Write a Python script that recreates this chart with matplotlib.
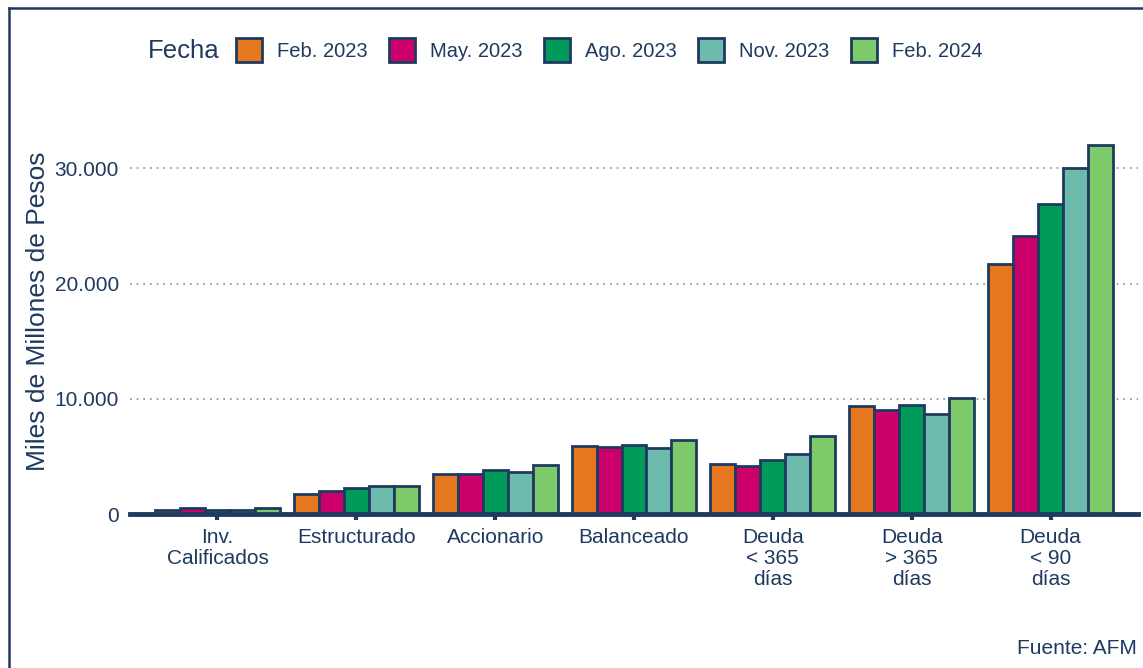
import numpy as np
import matplotlib.pyplot as plt
from matplotlib.patches import Patch
from matplotlib.lines import Line2D

plt.rcParams['font.family'] = ['Liberation Sans', 'DejaVu Sans']

# Data (miles de millones de pesos)
categorias = ['Inv.\nCalificados', 'Estructurado', 'Accionario', 'Balanceado',
              'Deuda\n< 365\ndías', 'Deuda\n> 365\ndías', 'Deuda\n< 90\ndías']
fechas = ['Feb. 2023', 'May. 2023', 'Ago. 2023', 'Nov. 2023', 'Feb. 2024']
feb_2023 = [380, 1740, 3480, 5910, 4350, 9390, 21710]
may_2023 = [480, 2030, 3450, 5850, 4200, 9020, 24170]
ago_2023 = [330, 2290, 3830, 5970, 4670, 9480, 26900]
nov_2023 = [380, 2400, 3630, 5740, 5220, 8700, 30000]
feb_2024 = [560, 2400, 4290, 6430, 6780, 10110, 32030]
series = [feb_2023, may_2023, ago_2023, nov_2023, feb_2024]

colores = ['#E67721', '#CC006B', '#009A5A', '#6CBBAD', '#7DCA6A']
navy = '#1F3A5F'
texto = '#1F3A5F'

W, H = 1143, 668
fig = plt.figure(figsize=(W / 100, H / 100), dpi=100)
ax = fig.add_axes([130 / W, 1 - 514 / H, (1138 - 130) / W, (514 - 127) / H])

x = np.arange(len(categorias))
ancho = 0.18
for i, (vals, col) in enumerate(zip(series, colores)):
    ax.bar(x + (i - 2) * ancho, vals, width=ancho, color=col,
           edgecolor=navy, linewidth=2.0, zorder=3)

ax.set_xlim(-0.63, 6.63)
ax.set_ylim(0, 33600)
ax.set_yticks([0, 10000, 20000, 30000])
ax.set_yticklabels(['0', '10.000', '20.000', '30.000'])
ax.set_xticks(x)
ax.set_xticklabels(categorias, linespacing=1.15)

for y in [10000, 20000, 30000]:
    ax.axhline(y, color='#7F8FA6', linestyle=(0, (1, 3)), linewidth=1.2, zorder=1)

for s in ['top', 'right', 'left']:
    ax.spines[s].set_visible(False)
ax.spines['bottom'].set_color(navy)
ax.spines['bottom'].set_linewidth(3.5)
ax.spines['bottom'].set_zorder(4)

ax.tick_params(axis='y', length=0, pad=8, labelsize=15, labelcolor=texto)
ax.tick_params(axis='x', length=4, width=3, color=navy, pad=6,
               labelsize=15, labelcolor=texto)

ax.set_ylabel('Miles de Millones de Pesos', fontsize=19, color=texto)
ax.yaxis.set_label_coords(-80 / (1138 - 130), 0.525)

# Legend
handles = [Patch(facecolor=c, edgecolor=navy, linewidth=2) for c in colores]
fig.text(148 / W, 1 - 51 / H, 'Fecha', fontsize=18.5, color=texto, va='center', ha='left')
fig.legend(handles, fechas, loc='center left', bbox_to_anchor=(236 / W, 1 - 50 / H),
           ncol=5, frameon=False, fontsize=14.5, labelcolor=texto,
           handlelength=1.3, handleheight=1.4, handletextpad=0.75,
           columnspacing=1.05, borderaxespad=0, borderpad=0)

fig.text(1137 / W, 1 - 648 / H, 'Fuente: AFM', fontsize=15, color=texto,
         ha='right', va='center')

# Border
fig.add_artist(Line2D([9 / W, 9 / W], [0, 1 - 8 / H], color=navy, linewidth=1.8))
fig.add_artist(Line2D([9 / W, 1], [1 - 8 / H, 1 - 8 / H], color=navy, linewidth=1.8))

fig.savefig('out.png', dpi=100)
